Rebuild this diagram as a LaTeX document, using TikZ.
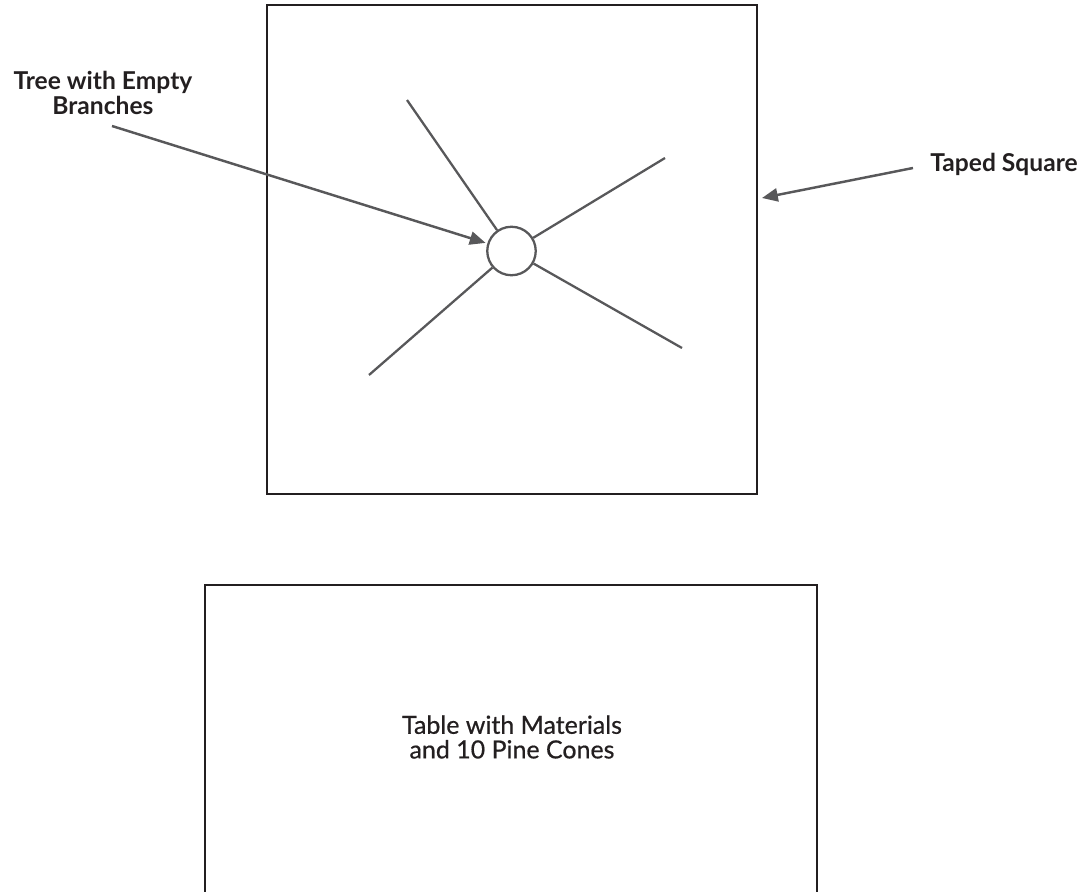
\documentclass[tikz,border=0pt]{standalone}
\usepackage{fontspec}
\setmainfont{Lato}
\newfontfamily\tablefont[FakeBold=0.6]{Lato}
\usetikzlibrary{arrows.meta,positioning}
\definecolor{inkdark}{HTML}{231F20}
\definecolor{inkgray}{HTML}{58585A}
\tikzstyle{tape}=[draw=inkdark,line width=1.4pt]
\tikzstyle{trunk}=[circle,draw=inkgray,line width=1.3pt,fill=white,minimum size=0.97cm,inner sep=0pt]
\tikzstyle{branch}=[draw=inkgray,line width=1.3pt]
\tikzstyle{callout}=[text=inkdark,font=\bfseries\fontsize{14}{14}\selectfont,align=center,inner sep=0pt]
\tikzstyle{pointer}=[draw=inkgray,line width=1.4pt,-{Triangle[length=9pt,width=7.5pt]}]

\begin{document}
\begin{tikzpicture}[x=0.02cm,y=-0.02cm]
  \useasboundingbox (0,0) rectangle (1089,892);

  % taped square and table
  \draw[tape] (267,5) rectangle (757,494);
  \draw[tape] (205,892) -- (205,585) -- (817,585) -- (817,892);
  \node[text=inkdark,font=\tablefont\fontsize{14.2}{14}\selectfont,align=center,inner sep=0pt] (table) at (512,737) {Table with Materials\\and 10 Pine Cones};

  % tree
  \node[trunk] (tree) at (511.5,251) {};
  \coordinate (b1) at (407,100);
  \coordinate (b2) at (665,158);
  \coordinate (b3) at (682,348);
  \coordinate (b4) at (369,375);
  \path[branch] (tree) -- (b1)
                (tree) -- (b2)
                (tree) -- (b3)
                (tree) -- (b4);

  % labels
  \node[callout] (treelabel) at (103,93) {Tree with Empty\\Branches};
  \node[callout,anchor=west] (squarelabel) at (930,164) {Taped Square};
  \coordinate (treefrom) at (112,126);
  \coordinate (squarefrom) at (913,168);
  \coordinate (squareto) at (762,198);
  \draw[pointer,shorten >=1pt] (treefrom) -- (tree);
  \draw[pointer] (squarefrom) -- (squareto);
\end{tikzpicture}
\end{document}
